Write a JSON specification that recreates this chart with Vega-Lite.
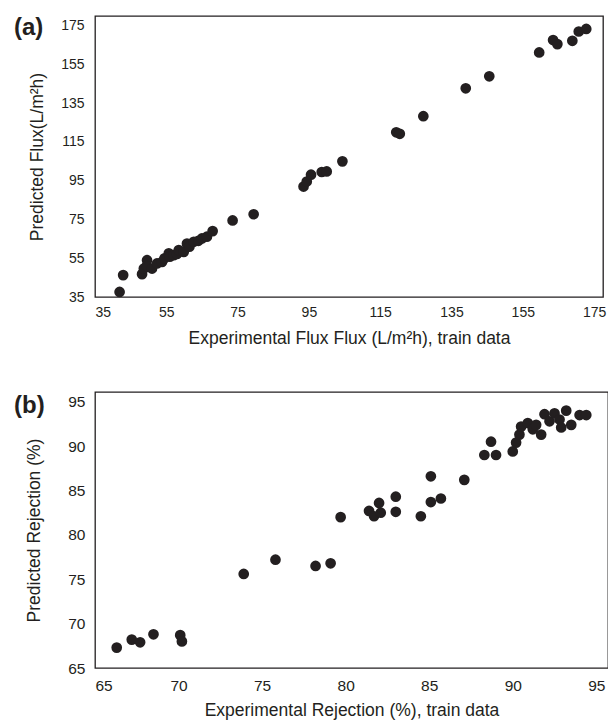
{
  "$schema": "https://vega.github.io/schema/vega-lite/v6.json",
  "background": "white",
  "padding": {"left": 13, "top": 15, "right": 0, "bottom": 2},
  "config": {
    "font": "Liberation Sans",
    "view": {"stroke": "#231f20", "strokeWidth": 1.3},
    "axis": {"grid": false, "ticks": false, "domain": false, "labelFont": "Liberation Sans", "labelColor": "#231f20", "titleFont": "Liberation Sans", "titleFontSize": 17.5, "titleFontWeight": "normal", "titleColor": "#231f20", "labelPadding": 9},
    "concat": {"spacing": 43}
  },
  "datasets": {
    "flux": [
      {"exp": 41.9, "pred": 37.6}, {"exp": 42.9, "pred": 46.3}, {"exp": 48.2, "pred": 46.8}, {"exp": 48.7, "pred": 49.7},
      {"exp": 49.6, "pred": 54.0}, {"exp": 49.5, "pred": 51.0}, {"exp": 51.0, "pred": 49.7}, {"exp": 52.4, "pred": 52.3},
      {"exp": 53.8, "pred": 53.1}, {"exp": 54.5, "pred": 55.0}, {"exp": 55.7, "pred": 57.5}, {"exp": 56.0, "pred": 55.8},
      {"exp": 57.1, "pred": 56.6}, {"exp": 58.0, "pred": 57.2}, {"exp": 58.5, "pred": 59.2}, {"exp": 59.9, "pred": 58.3},
      {"exp": 60.8, "pred": 62.6}, {"exp": 61.5, "pred": 61.0}, {"exp": 62.7, "pred": 63.5}, {"exp": 64.0, "pred": 64.0},
      {"exp": 65.0, "pred": 65.2}, {"exp": 66.4, "pred": 66.1}, {"exp": 68.0, "pred": 69.0}, {"exp": 73.6, "pred": 74.5},
      {"exp": 79.5, "pred": 77.7}, {"exp": 93.5, "pred": 92.0}, {"exp": 94.4, "pred": 94.6}, {"exp": 95.6, "pred": 98.1},
      {"exp": 98.6, "pred": 99.5}, {"exp": 100.0, "pred": 99.8}, {"exp": 104.4, "pred": 105.0}, {"exp": 119.5, "pred": 120.0},
      {"exp": 120.5, "pred": 119.2}, {"exp": 127.1, "pred": 128.3}, {"exp": 139.0, "pred": 142.7}, {"exp": 145.6, "pred": 148.9},
      {"exp": 159.6, "pred": 161.2}, {"exp": 163.5, "pred": 167.6}, {"exp": 164.7, "pred": 165.5}, {"exp": 168.9, "pred": 167.2},
      {"exp": 170.7, "pred": 172.0}, {"exp": 172.8, "pred": 173.3}
    ],
    "rej": [
      {"exp": 66.3, "pred": 67.3}, {"exp": 67.2, "pred": 68.2}, {"exp": 67.7, "pred": 67.9}, {"exp": 68.5, "pred": 68.8},
      {"exp": 70.1, "pred": 68.7}, {"exp": 70.2, "pred": 68.0}, {"exp": 73.9, "pred": 75.6}, {"exp": 75.8, "pred": 77.2},
      {"exp": 78.2, "pred": 76.5}, {"exp": 79.1, "pred": 76.8}, {"exp": 79.7, "pred": 82.0}, {"exp": 81.4, "pred": 82.7},
      {"exp": 81.7, "pred": 82.1}, {"exp": 82.0, "pred": 83.6}, {"exp": 82.1, "pred": 82.5}, {"exp": 83.0, "pred": 84.3},
      {"exp": 83.0, "pred": 82.6}, {"exp": 84.5, "pred": 82.1}, {"exp": 85.1, "pred": 83.7}, {"exp": 85.7, "pred": 84.1},
      {"exp": 85.1, "pred": 86.6}, {"exp": 87.1, "pred": 86.2}, {"exp": 88.3, "pred": 89.0}, {"exp": 88.7, "pred": 90.5},
      {"exp": 89.0, "pred": 89.0}, {"exp": 90.0, "pred": 89.4}, {"exp": 90.2, "pred": 90.4}, {"exp": 90.4, "pred": 91.3},
      {"exp": 90.5, "pred": 92.2}, {"exp": 90.9, "pred": 92.6}, {"exp": 91.2, "pred": 91.9}, {"exp": 91.4, "pred": 92.4},
      {"exp": 91.7, "pred": 91.3}, {"exp": 91.9, "pred": 93.6}, {"exp": 92.2, "pred": 92.8}, {"exp": 92.5, "pred": 93.7},
      {"exp": 92.8, "pred": 93.0}, {"exp": 92.9, "pred": 92.1}, {"exp": 93.2, "pred": 94.0}, {"exp": 93.5, "pred": 92.4},
      {"exp": 94.0, "pred": 93.5}, {"exp": 94.4, "pred": 93.5}
    ]
  },
  "vconcat": [
    {
      "width": 508,
      "height": 281,
      "title": {"text": "(a)", "anchor": "start", "frame": "group", "fontSize": 24, "fontWeight": "bold", "color": "#231f20", "dx": -81, "dy": 24, "offset": 0},
      "data": {"name": "flux"},
      "mark": {"type": "circle", "size": 115, "color": "#231f20", "opacity": 1},
      "encoding": {
        "x": {"field": "exp", "type": "quantitative", "scale": {"domain": [35, 177.5], "nice": false, "zero": false}, "axis": {"values": [35, 55, 75, 95, 115, 135, 155, 175], "labelFontSize": 14, "labelPadding": 8, "title": "Experimental Flux Flux (L/m²h), train data", "titlePadding": 10}},
        "y": {"field": "pred", "type": "quantitative", "scale": {"domain": [35, 180], "nice": false, "zero": false}, "axis": {"values": [35, 55, 75, 95, 115, 135, 155, 175], "labelFontSize": 14, "labelPadding": 11, "title": "Predicted Flux(L/m²h)", "titlePadding": 14}}
      }
    },
    {
      "width": 513,
      "height": 276,
      "title": {"text": "(b)", "anchor": "start", "frame": "group", "fontSize": 24, "fontWeight": "bold", "color": "#231f20", "dx": -81, "dy": 26, "offset": 0},
      "data": {"name": "rej"},
      "mark": {"type": "circle", "size": 115, "color": "#231f20", "opacity": 1},
      "encoding": {
        "x": {"field": "exp", "type": "quantitative", "scale": {"domain": [65, 95.7], "nice": false, "zero": false}, "axis": {"values": [65, 70, 75, 80, 85, 90, 95], "labelFontSize": 15.5, "labelPadding": 10, "title": "Experimental Rejection (%), train data", "titlePadding": 8}},
        "y": {"field": "pred", "type": "quantitative", "scale": {"domain": [65, 96.1], "nice": false, "zero": false}, "axis": {"values": [65, 70, 75, 80, 85, 90, 95], "labelFontSize": 15.5, "labelPadding": 10, "title": "Predicted Rejection (%)", "titlePadding": 24}}
      }
    }
  ]
}
